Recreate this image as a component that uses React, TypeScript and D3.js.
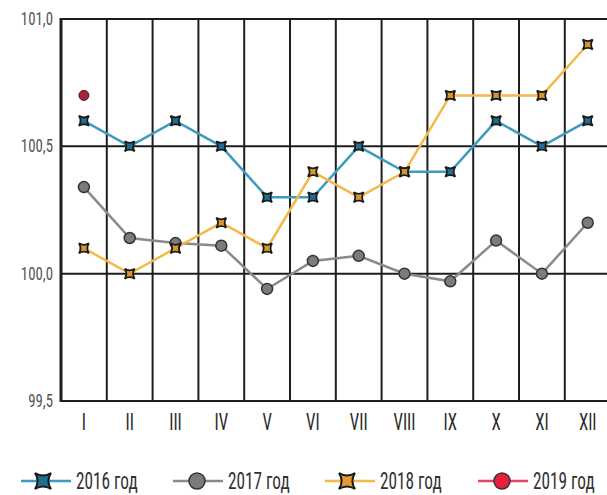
import React, { useRef, useEffect } from "react";
import * as d3 from "d3";

// Months (roman numerals) and monthly index values
const months = ["I", "II", "III", "IV", "V", "VI", "VII", "VIII", "IX", "X", "XI", "XII"];
const y2016 = [100.6, 100.5, 100.6, 100.5, 100.3, 100.3, 100.5, 100.4, 100.4, 100.6, 100.5, 100.6];
const y2017 = [100.34, 100.14, 100.12, 100.11, 99.94, 100.05, 100.07, 100.0, 99.97, 100.13, 100.0, 100.2];
const y2018 = [100.1, 100.0, 100.1, 100.2, 100.1, 100.4, 100.3, 100.4, 100.7, 100.7, 100.7, 100.9];
const y2019 = [100.7];
const yTicks = [99.5, 100.0, 100.5, 101.0];
const seriesNames = ["2016 год", "2017 год", "2018 год", "2019 год"];

const FONT = "'Liberation Sans Narrow', 'Roboto Condensed', 'DejaVu Sans Condensed', sans-serif";

// concave square marker ("star" box)
const starPath = (s: number) =>
  `M${-s},${-s} Q0,${-s * 0.35} ${s},${-s} Q${s * 0.35},0 ${s},${s} Q0,${s * 0.35} ${-s},${s} Q${-s * 0.35},0 ${-s},${-s} Z`;

const App = () => {
  const svgRef = useRef<SVGSVGElement>(null);

  useEffect(() => {
    const width = 607;
    const height = 495;
    const left = 61;
    const step = 45.8;

    const svg = d3.select(svgRef.current).attr("width", width).attr("height", height);
    svg.selectAll("*").remove();

    const x = d3
      .scaleBand<string>()
      .domain(months)
      .range([left, left + step * months.length]);
    const y = d3.scaleLinear().domain([99.5, 101]).range([401, 19]);
    const cx = (i: number) => (x(months[i]) as number) + x.bandwidth() / 2;

    // grid
    const grid = svg.append("g");
    months.forEach((m) => {
      grid
        .append("line")
        .attr("x1", x(m) as number)
        .attr("x2", x(m) as number)
        .attr("y1", y(101))
        .attr("y2", y(99.5))
        .attr("stroke", "#1e1e1e")
        .attr("stroke-width", 2);
    });
    yTicks.forEach((t) => {
      grid
        .append("line")
        .attr("x1", left - 1)
        .attr("x2", width)
        .attr("y1", y(t))
        .attr("y2", y(t))
        .attr("stroke", "#1e1e1e")
        .attr("stroke-width", 2);
    });
    grid
      .append("line")
      .attr("x1", left)
      .attr("x2", left)
      .attr("y1", y(101) - 1)
      .attr("y2", y(99.5) + 1)
      .attr("stroke", "#1e1e1e")
      .attr("stroke-width", 3);

    // y labels
    svg
      .append("g")
      .selectAll("text")
      .data(yTicks)
      .enter()
      .append("text")
      .attr("transform", (d) => `translate(53,${y(d) + 6}) scale(0.78,1)`)
      .attr("text-anchor", "end")
      .attr("font-family", FONT)
      .attr("font-size", 19)
      .attr("fill", "#555")
      .text((d) => d3.format(".1f")(d).replace(".", ","));

    // x labels
    svg
      .append("g")
      .selectAll("text")
      .data(months)
      .enter()
      .append("text")
      .attr("transform", (d, i) => `translate(${cx(i)},${430}) scale(0.7,1)`)
      .attr("text-anchor", "middle")
      .attr("font-family", FONT)
      .attr("font-size", 24)
      .attr("fill", "#2a2a2a")
      .text((d) => d);

    const line = d3
      .line<number>()
      .x((d, i) => cx(i))
      .y((d) => y(d));

    const series = [
      { vals: y2017, color: "#8a8a8a", fill: "#7b7b7b", mark: "circle" },
      { vals: y2016, color: "#3b9cc0", fill: "#1f6f92", mark: "star" },
      { vals: y2018, color: "#f4b94a", fill: "#d9952f", mark: "star" },
    ];

    series.forEach((s) => {
      svg
        .append("path")
        .attr("d", line(s.vals) as string)
        .attr("fill", "none")
        .attr("stroke", s.color)
        .attr("stroke-width", 2.5);
    });
    series.forEach((s) => {
      const g = svg.append("g");
      s.vals.forEach((v, i) => {
        if (s.mark === "circle") {
          g.append("circle")
            .attr("cx", cx(i))
            .attr("cy", y(v))
            .attr("r", 5.5)
            .attr("fill", s.fill)
            .attr("stroke", "#333")
            .attr("stroke-width", 1.5);
        } else {
          g.append("path")
            .attr("d", starPath(5))
            .attr("transform", `translate(${cx(i)},${y(v)})`)
            .attr("fill", s.fill)
            .attr("stroke", "#1a1a1a")
            .attr("stroke-width", 1.8);
        }
      });
    });

    // 2019 point
    y2019.forEach((v, i) => {
      svg
        .append("circle")
        .attr("cx", cx(i))
        .attr("cy", y(v))
        .attr("r", 5)
        .attr("fill", "#a3243e")
        .attr("stroke", "#5a1020")
        .attr("stroke-width", 1);
    });

    // legend
    const legend = [
      { x0: 21, line: "#3b9cc0", fill: "#1f6f92", mark: "star" },
      { x0: 173, line: "#8a8a8a", fill: "#7b7b7b", mark: "circle" },
      { x0: 325, line: "#f4b94a", fill: "#e39a35", mark: "star" },
      { x0: 478, line: "#e0456a", fill: "#e4203a", mark: "circle" },
    ];
    const ly = 481;
    legend.forEach((l, i) => {
      const g = svg.append("g");
      g.append("line")
        .attr("x1", l.x0)
        .attr("x2", l.x0 + 50)
        .attr("y1", ly)
        .attr("y2", ly)
        .attr("stroke", l.line)
        .attr("stroke-width", 2.5);
      if (l.mark === "circle") {
        g.append("circle")
          .attr("cx", l.x0 + 24)
          .attr("cy", ly)
          .attr("r", 8)
          .attr("fill", l.fill)
          .attr("stroke", "#333")
          .attr("stroke-width", 1.5);
      } else {
        g.append("path")
          .attr("d", starPath(8))
          .attr("transform", `translate(${l.x0 + 22},${ly})`)
          .attr("fill", l.fill)
          .attr("stroke", "#1a1a1a")
          .attr("stroke-width", 2);
      }
      g.append("text")
        .attr("transform", `translate(${l.x0 + 55},${ly + 8}) scale(0.72,1)`)
        .attr("font-family", FONT)
        .attr("font-size", 24)
        .attr("fill", "#333")
        .text(seriesNames[i]);
    });
  }, []);

  return <svg ref={svgRef} style={{ position: "absolute", left: 0, top: 0, background: "#fff" }}></svg>;
};

export default App;
